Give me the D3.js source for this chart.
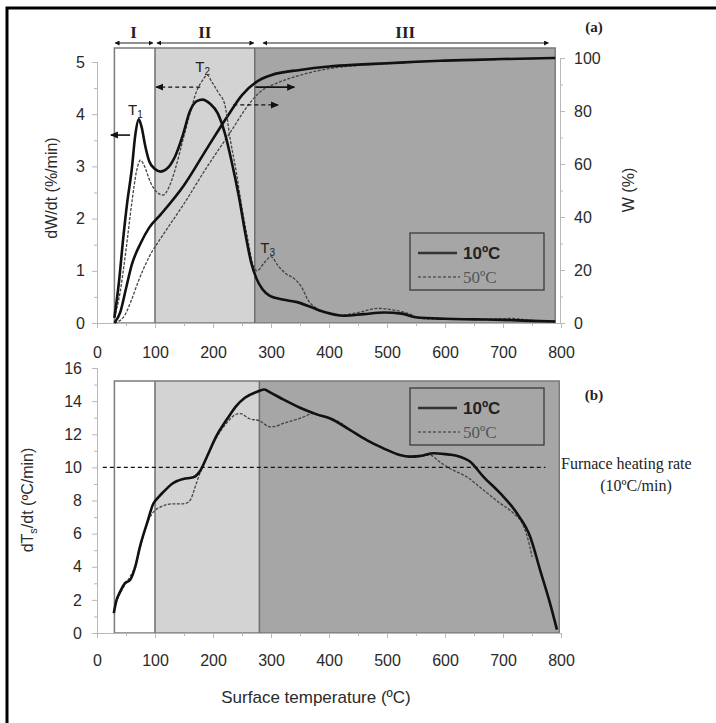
<!DOCTYPE html>
<html>
<head>
<meta charset="utf-8">
<script src="https://cdn.jsdelivr.net/npm/d3@7"></script>
<style>
  body { margin: 0; background: #fff; }
  svg { display: block; }
</style>
</head>
<body>
<div id="chart"></div>
<script>
// Surface temperature vs mass loss / heating rate, two panels
const xTicks = [0, 100, 200, 300, 400, 500, 600, 700, 800];
const dwTicks = [0, 1, 2, 3, 4, 5];
const wTicks = [0, 20, 40, 60, 80, 100];
const dtsTicks = [0, 2, 4, 6, 8, 10, 12, 14, 16];

// region bounds (degC): start, end of I, end of II, end of data
const regionsA = [30, 100, 272, 790];
const regionsB = [30, 100, 280, 797];
const regionNames = ['I', 'II', 'III'];

// (a) dW/dt, 10 degC/min
const tA10 = [30, 38, 45, 52, 60, 66, 72, 77, 83, 90, 100, 110, 122, 135, 148, 160, 172, 182, 195, 208, 220, 232, 245, 256, 266, 275, 285, 298, 320, 345, 370, 395, 425, 460, 495, 525, 550, 600, 650, 700, 750, 790];
const dwA10 = [0.1, 0.8, 1.6, 2.3, 2.95, 3.6, 3.9, 3.75, 3.4, 3.1, 2.95, 2.9, 2.97, 3.2, 3.6, 4.05, 4.25, 4.28, 4.2, 4.02, 3.65, 3.1, 2.4, 1.7, 1.15, 0.85, 0.65, 0.52, 0.45, 0.4, 0.3, 0.2, 0.14, 0.17, 0.2, 0.18, 0.11, 0.08, 0.07, 0.06, 0.04, 0.03];

// (a) dW/dt, 50 degC/min
const tA50 = [30, 40, 50, 60, 68, 75, 82, 92, 104, 114, 124, 135, 148, 160, 172, 182, 190, 198, 210, 220, 230, 240, 250, 260, 268, 276, 288, 300, 312, 325, 340, 352, 365, 380, 400, 420, 450, 485, 515, 540, 555, 600, 650, 700, 710, 750, 790];
const dwA50 = [0.1, 0.6, 1.4, 2.3, 2.9, 3.12, 3.0, 2.7, 2.5, 2.45, 2.6, 2.95, 3.5, 4.0, 4.45, 4.65, 4.75, 4.62, 4.4, 4.2, 3.5, 2.9, 2.2, 1.6, 1.15, 1.0, 1.15, 1.27, 1.1, 0.95, 0.85, 0.7, 0.42, 0.27, 0.18, 0.15, 0.2, 0.28, 0.24, 0.17, 0.09, 0.07, 0.07, 0.08, 0.09, 0.05, 0.03];

// (a) W, 10 degC/min
const tW10 = [30, 40, 50, 60, 75, 90, 110, 150, 190, 225, 250, 275, 300, 350, 400, 450, 500, 550, 600, 650, 700, 790];
const w10 = [0, 4, 13, 22, 30, 36, 41, 52, 66, 78, 86, 91, 93.5, 95.5, 96.8, 97.5, 98, 98.6, 99, 99.3, 99.6, 100];

// (a) W, 50 degC/min
const tW50 = [30, 45, 60, 70, 90, 110, 150, 190, 230, 260, 280, 310, 350, 400, 450, 500, 550, 600, 700, 790];
const w50 = [0, 2, 9, 15, 25, 32, 45, 59, 72, 82, 87, 90.5, 93.5, 96, 97.2, 97.8, 98.5, 99, 99.5, 100];

// (b) dTs/dt, 10 degC/min
const tB10 = [29, 33, 40, 48, 57, 66, 74, 86, 97, 106, 114, 129, 149, 166, 178, 189, 206, 224, 240, 255, 275, 288, 300, 321, 350, 379, 402, 436, 465, 494, 522, 540, 560, 580, 600, 620, 643, 666, 695, 724, 747, 764, 781, 793];
const dtsB10 = [1.2, 1.9, 2.5, 3.0, 3.2, 4.0, 5.2, 6.6, 7.8, 8.2, 8.5, 9.0, 9.3, 9.4, 9.8, 10.6, 11.9, 12.9, 13.7, 14.2, 14.55, 14.7, 14.5, 14.1, 13.6, 13.2, 12.95, 12.26, 11.65, 11.15, 10.75, 10.65, 10.7, 10.85, 10.8, 10.7, 10.35, 9.44, 8.44, 7.23, 5.8, 3.8, 1.8, 0.2];

// (b) dTs/dt, 50 degC/min
const tB50 = [29, 33, 40, 48, 57, 63, 70, 80, 90, 97, 109, 120, 131, 145, 155, 162, 170, 178, 189, 206, 224, 235, 247, 262, 281, 298, 310, 321, 340, 360, 370, 385, 400, 420, 436, 465, 494, 522, 545, 574, 590, 610, 637, 666, 695, 718, 736, 745, 750];
const dtsB50 = [1.2, 1.8, 2.4, 2.9, 3.4, 3.8, 4.6, 5.9, 6.9, 7.3, 7.6, 7.75, 7.8, 7.8, 7.85, 8.1, 8.9, 9.7, 10.6, 11.8, 12.7, 13.1, 13.25, 12.95, 12.8, 12.45, 12.5, 12.65, 12.85, 13.1, 13.25, 13.1, 13.0, 12.7, 12.26, 11.65, 11.15, 10.75, 10.6, 10.75, 10.35, 9.9, 9.44, 8.64, 7.83, 7.23, 6.4, 5.4, 4.6];

const furnaceRate = 10;

(function() {
  const width = 716;
  const height = 723;
  const sans = '"Liberation Sans", Arial, sans-serif';
  const serif = '"Liberation Serif", "Times New Roman", serif';
  const fills = ['#ffffff', '#d3d3d3', '#a6a6a6'];
  const axisGray = '#b8b8b8';
  const fmt = d3.format('d');

  const svg = d3.select('#chart').append('svg')
    .attr('width', width)
    .attr('height', height);

  // arrow heads
  const defs = svg.append('defs');
  defs.append('marker')
    .attr('id', 'head')
    .attr('viewBox', '0 0 8 8')
    .attr('refX', 7).attr('refY', 4)
    .attr('markerWidth', 8).attr('markerHeight', 8)
    .attr('markerUnits', 'userSpaceOnUse')
    .attr('orient', 'auto-start-reverse')
    .append('path').attr('d', 'M0,0.5 L8,4 L0,7.5 z').attr('fill', '#111');
  defs.append('marker')
    .attr('id', 'small')
    .attr('viewBox', '0 0 6 6')
    .attr('refX', 5).attr('refY', 3)
    .attr('markerWidth', 5).attr('markerHeight', 5)
    .attr('markerUnits', 'userSpaceOnUse')
    .attr('orient', 'auto-start-reverse')
    .append('path').attr('d', 'M0,0 L6,3 L0,6 z').attr('fill', '#111');

  // outer frame (cropped on right / bottom)
  svg.append('rect')
    .attr('x', 7).attr('y', 8)
    .attr('width', 730).attr('height', 740)
    .attr('fill', 'none')
    .attr('stroke', '#000')
    .attr('stroke-width', 3);

  const x = d3.scaleLinear().domain([0, 800]).range([97, 561]);
  const yA = d3.scaleLinear().domain([0, 5]).range([323, 62]);
  const yW = d3.scaleLinear().domain([0, 100]).range([323, 58]);
  const yB = d3.scaleLinear().domain([0, 16]).range([633, 368]);

  function styleAxis(g) {
    g.select('.domain').attr('stroke', axisGray);
    g.selectAll('.tick line').attr('stroke', axisGray);
    g.selectAll('.tick text')
      .attr('fill', '#2a2a2a')
      .attr('font-family', sans)
      .attr('font-size', '16px');
  }

  function minor(axis, values) {
    return axis.tickValues(values).tickSize(3).tickFormat('');
  }

  function regionsBox(bounds, yTop, yBot) {
    const g = svg.append('g');
    for (let i = 0; i < 3; i++) {
      g.append('rect')
        .attr('x', x(bounds[i]))
        .attr('y', yTop)
        .attr('width', x(bounds[i + 1]) - x(bounds[i]))
        .attr('height', yBot - yTop)
        .attr('fill', fills[i]);
    }
    g.append('rect')
      .attr('x', x(bounds[0]))
      .attr('y', yTop)
      .attr('width', x(bounds[3]) - x(bounds[0]))
      .attr('height', yBot - yTop)
      .attr('fill', 'none')
      .attr('stroke', '#7a7a7a')
      .attr('stroke-width', 1.5);
    [bounds[1], bounds[2]].forEach(t => {
      g.append('line')
        .attr('x1', x(t)).attr('x2', x(t))
        .attr('y1', yTop).attr('y2', yBot)
        .attr('stroke', '#6e6e6e')
        .attr('stroke-width', 1.5);
    });
  }

  function series(ts, vs, yScale, style) {
    const pts = ts.map((t, i) => [t, vs[i]]);
    const line = d3.line()
      .x(d => x(d[0]))
      .y(d => yScale(d[1]))
      .curve(d3.curveMonotoneX);
    const p = svg.append('path')
      .datum(pts)
      .attr('d', line)
      .attr('fill', 'none')
      .attr('stroke-linejoin', 'round');
    if (style === 'thick') {
      p.attr('stroke', '#111').attr('stroke-width', 2.6);
    } else {
      p.attr('stroke', '#444').attr('stroke-width', 1.3).attr('stroke-dasharray', '3,1.5');
    }
  }

  function legend(yTop) {
    const g = svg.append('g');
    g.append('rect')
      .attr('x', 410).attr('y', yTop)
      .attr('width', 134).attr('height', 57)
      .attr('fill', 'none')
      .attr('stroke', '#333')
      .attr('stroke-width', 1.2);
    g.append('line')
      .attr('x1', 418).attr('x2', 457)
      .attr('y1', yTop + 20).attr('y2', yTop + 20)
      .attr('stroke', '#333').attr('stroke-width', 2.4);
    g.append('text')
      .attr('x', 463).attr('y', yTop + 26)
      .attr('font-family', sans).attr('font-size', '17px')
      .attr('font-weight', 'bold').attr('fill', '#222')
      .text('10ºC');
    g.append('line')
      .attr('x1', 418).attr('x2', 460)
      .attr('y1', yTop + 44).attr('y2', yTop + 44)
      .attr('stroke', '#555').attr('stroke-width', 1.3)
      .attr('stroke-dasharray', '3,2');
    g.append('text')
      .attr('x', 463).attr('y', yTop + 50)
      .attr('font-family', serif).attr('font-size', '17px')
      .attr('fill', '#555')
      .text('50ºC');
  }

  // ---------- panel (a) ----------
  regionsBox(regionsA, 48, 323);

  svg.append('g').attr('transform', 'translate(97,0)')
    .call(minor(d3.axisLeft(yA), d3.range(0.5, 5, 1)))
    .call(styleAxis);
  svg.append('g').attr('transform', 'translate(97,0)')
    .call(d3.axisLeft(yA).tickValues(dwTicks).tickFormat(fmt).tickSize(5).tickPadding(7))
    .call(styleAxis);
  svg.append('g').attr('transform', 'translate(560,0)')
    .call(minor(d3.axisRight(yW), d3.range(10, 100, 20)))
    .call(styleAxis);
  svg.append('g').attr('transform', 'translate(560,0)')
    .call(d3.axisRight(yW).tickValues(wTicks).tickFormat(fmt).tickSize(5).tickPadding(9))
    .call(styleAxis);
  svg.append('g').attr('transform', 'translate(0,323)')
    .call(minor(d3.axisBottom(x), d3.range(50, 800, 100)))
    .call(styleAxis);
  svg.append('g').attr('transform', 'translate(0,323)')
    .call(d3.axisBottom(x).tickValues(xTicks).tickFormat(fmt).tickSize(5).tickPadding(19))
    .call(styleAxis);

  series(tW50, w50, yW, 'thin');
  series(tW10, w10, yW, 'thick');
  series(tA50, dwA50, yA, 'thin');
  series(tA10, dwA10, yA, 'thick');

  // region arrows and labels
  const bandY = 43;
  const bandSpans = [[regionsA[0], 96], [102, 270], [285, 778]];
  bandSpans.forEach((s, i) => {
    svg.append('line')
      .attr('x1', x(s[0]) + 1).attr('x2', x(s[1]))
      .attr('y1', bandY).attr('y2', bandY)
      .attr('stroke', '#222').attr('stroke-width', 1)
      .attr('marker-start', 'url(#small)')
      .attr('marker-end', 'url(#small)');
    svg.append('text')
      .attr('x', (x(s[0]) + x(s[1])) / 2)
      .attr('y', bandY - 5)
      .attr('text-anchor', 'middle')
      .attr('font-family', serif).attr('font-size', '17px')
      .attr('font-weight', 'bold').attr('fill', '#222')
      .text(regionNames[i]);
  });

  // axis pointers
  const pointers = [
    { t: [57, 24], y: yA(3.6), dash: null },
    { t: [178, 102], y: yA(4.52), dash: '4,3' },
    { t: [273, 340], y: yW(89), dash: null },
    { t: [235, 312], y: yW(82.3), dash: '4,3' }
  ];
  pointers.forEach(p => {
    const l = svg.append('line')
      .attr('x1', x(p.t[0])).attr('x2', x(p.t[1]))
      .attr('y1', p.y).attr('y2', p.y)
      .attr('stroke', '#111')
      .attr('stroke-width', p.dash ? 1.2 : 1.6)
      .attr('marker-end', 'url(#head)');
    if (p.dash) l.attr('stroke-dasharray', p.dash);
  });

  // peak labels
  const peaks = [['1', 73, 115], ['2', 189, 72], ['3', 301, 253]];
  peaks.forEach(([n, t, yy]) => {
    const tx = svg.append('text')
      .attr('x', x(t) - 4).attr('y', yy)
      .attr('text-anchor', 'middle')
      .attr('font-family', sans).attr('font-size', '15px')
      .attr('fill', '#222');
    tx.append('tspan').text('T');
    tx.append('tspan').attr('font-size', '10px').attr('dy', 3).text(n);
  });

  legend(233);

  svg.append('text')
    .attr('transform', 'translate(57,188) rotate(-90)')
    .attr('text-anchor', 'middle')
    .attr('font-family', sans).attr('font-size', '16px')
    .attr('fill', '#2a2a2a')
    .text('dW/dt (%/min)');
  svg.append('text')
    .attr('transform', 'translate(634,190) rotate(-90)')
    .attr('text-anchor', 'middle')
    .attr('font-family', sans).attr('font-size', '16px')
    .attr('fill', '#2a2a2a')
    .text('W (%)');
  svg.append('text')
    .attr('x', 594).attr('y', 32)
    .attr('text-anchor', 'middle')
    .attr('font-family', serif).attr('font-size', '15px')
    .attr('font-weight', 'bold').attr('fill', '#222')
    .text('(a)');

  // ---------- panel (b) ----------
  regionsBox(regionsB, 381, 633);

  svg.append('g').attr('transform', 'translate(97,0)')
    .call(minor(d3.axisLeft(yB), d3.range(1, 16, 2)))
    .call(styleAxis);
  svg.append('g').attr('transform', 'translate(97,0)')
    .call(d3.axisLeft(yB).tickValues(dtsTicks).tickFormat(fmt).tickSize(5).tickPadding(10))
    .call(styleAxis);
  svg.append('g').attr('transform', 'translate(0,633)')
    .call(minor(d3.axisBottom(x), d3.range(50, 800, 100)))
    .call(styleAxis);
  svg.append('g').attr('transform', 'translate(0,633)')
    .call(d3.axisBottom(x).tickValues(xTicks).tickFormat(fmt).tickSize(5).tickPadding(17))
    .call(styleAxis);

  // furnace heating rate reference
  svg.append('line')
    .attr('x1', x(10)).attr('x2', x(773))
    .attr('y1', yB(furnaceRate)).attr('y2', yB(furnaceRate))
    .attr('stroke', '#111').attr('stroke-width', 1.3)
    .attr('stroke-dasharray', '4,3');

  series(tB50, dtsB50, yB, 'thin');
  series(tB10, dtsB10, yB, 'thick');

  legend(388);

  svg.append('text')
    .attr('x', 561).attr('y', yB(furnaceRate) + 2)
    .attr('font-family', serif).attr('font-size', '16px')
    .attr('fill', '#222')
    .text('Furnace heating rate');
  svg.append('text')
    .attr('x', 636).attr('y', yB(furnaceRate) + 24)
    .attr('text-anchor', 'middle')
    .attr('font-family', serif).attr('font-size', '16px')
    .attr('fill', '#222')
    .text('(10ºC/min)');
  svg.append('text')
    .attr('x', 594).attr('y', 400)
    .attr('text-anchor', 'middle')
    .attr('font-family', serif).attr('font-size', '15px')
    .attr('font-weight', 'bold').attr('fill', '#222')
    .text('(b)');

  const yl = svg.append('text')
    .attr('transform', 'translate(33,500) rotate(-90)')
    .attr('text-anchor', 'middle')
    .attr('font-family', sans).attr('font-size', '16px')
    .attr('fill', '#2a2a2a');
  yl.append('tspan').text('dT');
  yl.append('tspan').attr('font-size', '11px').attr('dy', 4).text('s');
  yl.append('tspan').attr('dy', -4).text('/dt (ºC/min)');

  svg.append('text')
    .attr('x', 316).attr('y', 703)
    .attr('text-anchor', 'middle')
    .attr('font-family', sans).attr('font-size', '17px')
    .attr('fill', '#2a2a2a')
    .text('Surface temperature (ºC)');
})();
</script>
</body>
</html>
